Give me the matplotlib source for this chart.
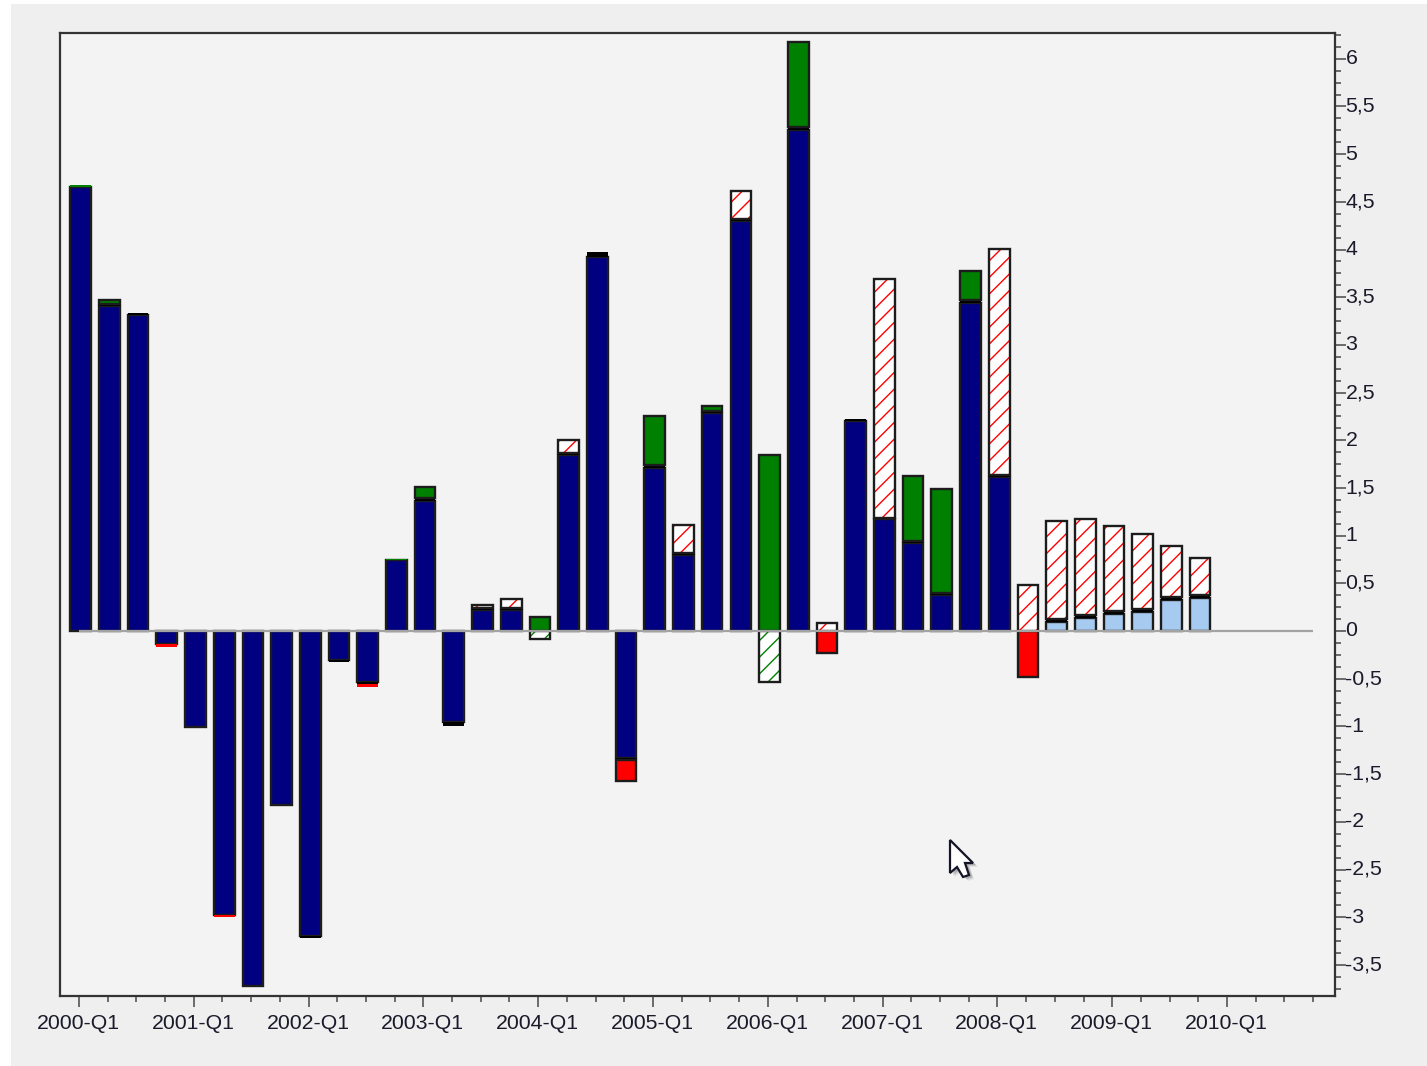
import numpy as np
import matplotlib
matplotlib.use('Agg')
import matplotlib.pyplot as plt
from matplotlib.patches import Polygon, Rectangle
from matplotlib.transforms import IdentityTransform, ScaledTranslation

plt.rcParams['font.family'] = ['Liberation Sans', 'DejaVu Sans']
plt.rcParams['hatch.linewidth'] = 1.0

# one value per quarter, 2000-Q1 to 2009-Q4
navy = [4.66, 3.41, 3.31, -0.14, -1.01, -2.98, -3.72, -1.82, -3.20, -0.30,
        -0.53, 0.74, 1.36, -0.95, 0.22, 0.22, 0, 1.85, 3.92, -1.33,
        1.71, 0.80, 2.29, 4.30, 0, 5.25, 0, 2.20, 1.17, 0.92,
        0.38, 3.44, 1.62, 0, 0, 0, 0, 0, 0, 0]
light_blue = [0, 0, 0, 0, 0, 0, 0, 0, 0, 0,
              0, 0, 0, 0, 0, 0, 0, 0, 0, 0,
              0, 0, 0, 0, 0, 0, 0, 0, 0, 0,
              0, 0, 0, 0, 0.10, 0.14, 0.18, 0.20, 0.33, 0.35]
black_cap = [0, 0.02, 0.02, 0, 0, 0, 0, 0, -0.02, -0.02,
             -0.03, 0, 0.04, -0.05, 0.02, 0.02, 0, 0.02, 0.05, -0.02,
             0.03, 0.02, 0.02, 0.02, 0, 0.03, 0, 0.02, 0.02, 0.02,
             0.02, 0.03, 0.02, 0, 0.03, 0.03, 0.03, 0.03, 0.03, 0.03]
green = [0.02, 0.04, 0, 0, 0, 0, 0, 0, 0, 0,
         0, 0.02, 0.11, 0, 0, 0, 0.15, 0, 0, 0,
         0.51, 0, 0.05, 0, 1.85, 0.90, 0, 0, 0, 0.69,
         1.09, 0.31, 0, 0, 0, 0, 0, 0, 0, 0]
red = [0, 0, 0, -0.03, 0, -0.02, 0, 0, 0, 0,
       -0.03, 0, 0, 0, 0, 0, 0, 0, 0, -0.22,
       0, 0, 0, 0, 0, 0, -0.23, 0, 0, 0,
       0, 0, 0, -0.48, 0, 0, 0, 0, 0, 0]
red_hatched = [0, 0, 0, 0, 0, 0, 0, 0, 0, 0,
               0, 0, 0, 0, 0.03, 0.10, 0, 0.13, 0, 0,
               0, 0.29, 0, 0.29, 0, 0, 0.08, 0, 2.50, 0,
               0, 0, 2.37, 0.48, 1.02, 1.00, 0.89, 0.79, 0.53, 0.39]
green_hatched = [0, 0, 0, 0, 0, 0, 0, 0, 0, 0,
                 0, 0, 0, 0, 0, 0, -0.08, 0, 0, 0,
                 0, 0, 0, 0, -0.53, 0, 0, 0, 0, 0,
                 0, 0, 0, 0, 0, 0, 0, 0, 0, 0]

years = ['2000', '2001', '2002', '2003', '2004', '2005', '2006', '2007', '2008', '2009', '2010']
y_major = [-3.5, -3, -2.5, -2, -1.5, -1, -0.5, 0, 0.5, 1, 1.5, 2, 2.5, 3, 3.5, 4, 4.5, 5, 5.5, 6]

NAVY = '#000080'
BLUE = '#a6caf0'
GREEN = '#008000'
RED = '#ff0000'
EDGE = '#1c1c1c'
LW = 1.7
W = 0.72

fig = plt.figure(figsize=(14.27, 10.66), dpi=100, facecolor='white')
fig.add_artist(Rectangle((11 / 1427, 0), 1 - 11 / 1427, 1062 / 1066, transform=fig.transFigure,
                         facecolor='#efefef', edgecolor='none', zorder=-5))
ax = fig.add_axes([60 / 1427, 70 / 1066, 1275 / 1427, 963 / 1066], facecolor='#f3f3f3')

x = np.arange(len(navy))
bar_x = x + 0.06


def solid(heights, bottoms, color):
    h = np.array(heights)
    m = h != 0
    # very thin slivers show as a plain coloured line, no outline
    lw = np.where(np.abs(h[m]) < 0.035, 0, LW)
    if color == '#000000':
        lw = np.zeros(m.sum())
    ax.bar(bar_x[m], h[m], W, bottom=np.array(bottoms)[m], color=color, edgecolor=EDGE, linewidth=lw, zorder=3)
    return np.array(bottoms) + h


def hatched(heights, bottoms, color):
    h = np.array(heights)
    m = h != 0
    ax.bar(bar_x[m], h[m], W, bottom=np.array(bottoms)[m], facecolor='white', edgecolor=color,
           hatch='//', linewidth=0, zorder=3)
    ax.bar(bar_x[m], h[m], W, bottom=np.array(bottoms)[m], fill=False, edgecolor=EDGE, linewidth=LW, zorder=3.5)


base = np.array(navy) + np.array(light_blue)
solid(navy, np.zeros(len(x)), NAVY)
solid(light_blue, np.zeros(len(x)), BLUE)
top = solid(black_cap, base, '#000000')
neg_top = np.where(base < 0, top, 0.0)

g = np.array(green)
solid(green, np.where(g > 0, np.maximum(top, 0), 0), GREEN)
solid(red, neg_top, RED)
hatched(red_hatched, np.maximum(top, 0), RED)
hatched(green_hatched, np.zeros(len(x)), GREEN)

ax.plot([0, 43], [0, 0], color='#a3a3a3', lw=1.6, zorder=5, solid_capstyle='butt')

ax.set_xlim(-0.66, 43.76)
ax.set_ylim(-3.826, 6.27)

ax.yaxis.tick_right()
ax.set_yticks(y_major)
ax.set_yticklabels([('%g' % v).replace('.', ',') for v in y_major])
ax.set_yticks(np.arange(-3.75, 6.26, 0.125), minor=True)
ax.set_xticks(np.arange(0, 41, 4))
ax.set_xticklabels([y + '-Q1' for y in years])
ax.set_xticks(np.arange(0, 44), minor=True)

ax.tick_params(axis='both', which='major', length=8, width=1.2, color='#555555',
               labelsize=15.3, labelcolor='#1a1a2a')
ax.tick_params(axis='both', which='minor', length=4, width=1.2, color='#555555')
ax.tick_params(axis='y', which='major', pad=0)
ax.tick_params(axis='x', which='major', pad=5)
for s in ax.spines.values():
    s.set_linewidth(1.6)
    s.set_color('#333333')

# labels sit a touch above their ticks in the reference
up = ScaledTranslation(-0.5 / 72, 1.5 / 72, fig.dpi_scale_trans)
for lab in ax.get_yticklabels():
    lab.set_transform(lab.get_transform() + up)
left = ScaledTranslation(-0.5 / 72, 0, fig.dpi_scale_trans)
for lab in ax.get_xticklabels():
    lab.set_transform(lab.get_transform() + left)

# mouse pointer caught in the screenshot
H = 1066
arrow = [(950, 840), (950, 873), (957, 867), (963, 877), (969, 875), (965, 863), (973, 863)]
for k, a in [(5, 0.08), (4, 0.12), (3, 0.18)]:
    fig.add_artist(Polygon([(px + k, H - py - k + 1) for px, py in arrow], closed=True, transform=IdentityTransform(),
                           facecolor='#222222', edgecolor='none', alpha=a, zorder=9))
fig.add_artist(Polygon([(px, H - py) for px, py in arrow], closed=True, transform=IdentityTransform(),
                       facecolor='white', edgecolor='#15152a', linewidth=1.6, zorder=10))

fig.savefig('out.png', dpi=100, facecolor=fig.get_facecolor())
